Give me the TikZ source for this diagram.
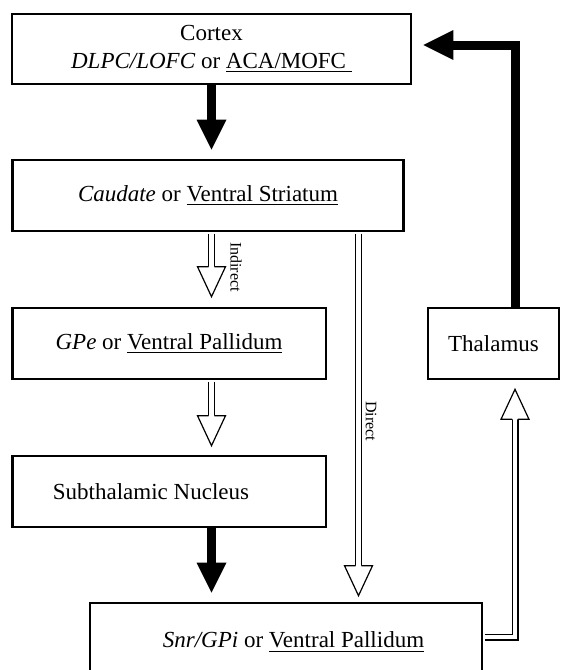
\documentclass[tikz,border=0pt]{standalone}
\usepackage{fontspec}
\setmainfont{Liberation Serif}
\usetikzlibrary{calc}
\usetikzlibrary{arrows.meta}
\tikzset{>=latex}
\tikzstyle{box}=[draw,line width=1.3pt,inner sep=0pt,align=center,font=\fontsize{11.5}{14}\selectfont]
\tikzstyle{blackarrow}=[line width=4.5pt,-{Triangle[width=15pt,length=15pt,line width=0pt]},shorten >=4.5pt]
\tikzstyle{hollow}=[draw,line width=0.6pt,double=white,double distance=2.3pt,shorten <=0.7pt]
\tikzstyle{pathlabel}=[rotate=-90,inner sep=0pt,font=\fontsize{8}{9.6}\selectfont]
\tikzset{openhead/.pic={
  \path[draw,fill=white,line width=0.6pt,line join=miter]
    (-1.45pt,15pt) -- (-7pt,15pt) -- (0,0) -- (7pt,15pt) -- (1.45pt,15pt);
}}

\begin{document}
\begin{tikzpicture}[x=0.5pt, y=-0.5pt]

\useasboundingbox (0,0) rectangle (561,670);

% boxes
\node [box, minimum width=199.5pt, minimum height=35pt] (cortex) at (211.5,49)
  {Cortex\\ \textit{DLPC/LOFC} or \underline{ACA/MOFC\ }};
\node [box, minimum width=195.75pt, minimum height=35.5pt] (caudate) at (208,195.5)
  {\textit{Caudate} or \underline{Ventral Striatum}};
\node [box, minimum width=156.8pt, minimum height=35.5pt] (gpe) at (169,343.5)
  {\textit{GPe} or \underline{Ventral Pallidum}};
\node [box, minimum width=65.5pt, minimum height=35.5pt] (thalamus) at (493.5,343.5)
  {Thalamus};
\node [box, minimum width=156.8pt, minimum height=35.5pt] (stn) at (169,491.5)
  {Subthalamic Nucleus\hspace*{18pt}};
\node [box, minimum width=196pt, minimum height=39pt] (snr) at (286,642)
  {\hspace*{7.5pt}\textit{Snr/GPi} or \underline{Ventral Pallidum}};

% path names
\node [pathlabel] (indirectlbl) at (236,267) {Indirect};
\node [pathlabel] (directlbl) at (371,421) {Direct};

\coordinate (direct) at (358.5,0);
\coordinate (loop) at (515,0);

% filled arrows
\draw [blackarrow] (cortex.south) -- (caudate.north -| cortex.south);
\draw [blackarrow] (stn.south -| cortex.south) -- (snr.north -| cortex.south);
\draw [blackarrow, shorten >=5.5pt] (thalamus.north -| loop) |- ($(cortex.east)+(0,-4)$);

% open arrows
\coordinate (indtip) at ($(gpe.north -| cortex.south)+(0,-10)$);
\draw [hollow] (caudate.south -| cortex.south) -- ($(indtip)+(0,-30)$);
\pic at (indtip) {openhead};

\coordinate (stntip) at ($(stn.north -| cortex.south)+(0,-9)$);
\draw [hollow] (gpe.south -| cortex.south) -- ($(stntip)+(0,-30)$);
\pic at (stntip) {openhead};

\coordinate (snrtip) at ($(snr.north -| direct)+(0,-6)$);
\draw [hollow] (caudate.south -| direct) -- ($(snrtip)+(0,-30)$);
\pic at (snrtip) {openhead};

\coordinate (thaltip) at ($(thalamus.south -| loop)+(0,9)$);
\draw [hollow, line join=miter] ($(snr.east)+(0,-5)$) -| ($(thaltip)+(0,30)$);
\pic [rotate=180] at (thaltip) {openhead};

\end{tikzpicture}
\end{document}
